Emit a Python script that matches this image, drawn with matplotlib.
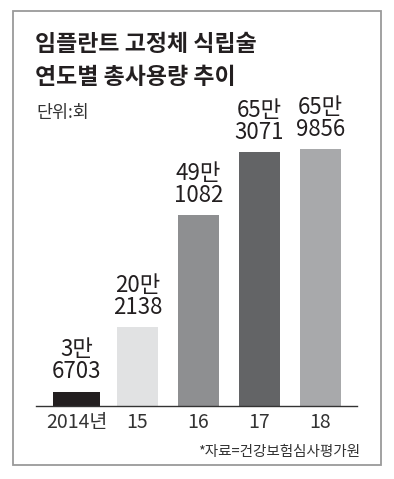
import matplotlib
matplotlib.use("Agg")
import matplotlib.pyplot as plt
from matplotlib.patches import Rectangle

plt.rcParams['font.family'] = ['Noto Sans CJK KR', 'DejaVu Sans']

# Data
years = ["2014년", "15", "16", "17", "18"]
values = [36703, 202138, 491082, 653071, 659856]
title_lines = ["임플란트 고정체 식립술", "연도별 총사용량 추이"]
unit_text = "단위:회"
source_text = "*자료=건강보험심사평가원"

# Styles
bar_colors = ["#231f20", "#e1e2e3", "#8e8f91", "#636466", "#a8a9ab"]
bar_widths = [0.77, 0.67, 0.67, 0.67, 0.68]

W, H = 394, 479
fig = plt.figure(figsize=(W / 100, H / 100), dpi=100)
fig.patch.set_facecolor("white")

def fx(px):
    return px / W

def fy(py):
    return 1 - py / H

# outer border
fig.patches.append(Rectangle((fx(13), fy(465)), fx(381) - fx(13), fy(10.5) - fy(465),
                             transform=fig.transFigure, fill=False,
                             edgecolor="#9a9a9a", linewidth=1.3))

ax = fig.add_axes([fx(36), fy(406), fx(357) - fx(36), fy(140) - fy(406)])
ax.set_facecolor("none")
x = list(range(len(values)))
ax.bar(x, values, width=bar_widths, color=bar_colors, linewidth=0)
ax.set_xlim(-0.664, 4.598)
ax.set_ylim(0, 683800)
for s in ["top", "right", "left"]:
    ax.spines[s].set_visible(False)
ax.spines["bottom"].set_color("#333333")
ax.spines["bottom"].set_linewidth(1.0)
ax.set_yticks([])
ax.set_xticks(x)
ax.set_xticklabels(years, fontsize=14, color="#333333")
ax.tick_params(axis="x", length=0, pad=4)

for xi, v in zip(x, values):
    lab = f"{v // 10000}만\n{v % 10000}"
    ax.annotate(lab, (xi, v), xytext=(0, 6), textcoords="offset points",
                ha="center", va="bottom", fontsize=16, color="#231f20",
                linespacing=0.95)

fig.text(fx(35), fy(51), title_lines[0], fontsize=16.5, fontweight="bold",
         color="#231f20", ha="left", va="baseline")
fig.text(fx(35), fy(84), title_lines[1], fontsize=16.5, fontweight="bold",
         color="#231f20", ha="left", va="baseline")
fig.text(fx(36), fy(118), unit_text, fontsize=12.5, color="#333333",
         ha="left", va="baseline")
fig.text(fx(360), fy(456), source_text, fontsize=10.5, color="#333333",
         ha="right", va="baseline")

fig.savefig("out.png", dpi=100)
